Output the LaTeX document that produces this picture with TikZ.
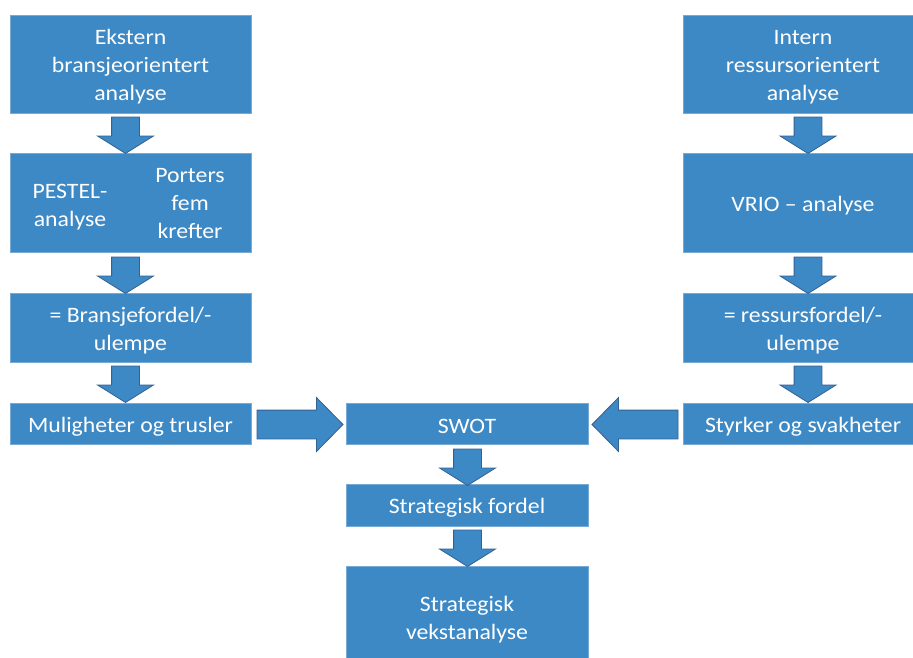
\documentclass[tikz,border=0pt]{standalone}
\usepackage{fontspec}
\setmainfont{Carlito}[FakeStretch=1.08]
\usetikzlibrary{shapes.arrows}
\definecolor{boxblue}{RGB}{61,137,197}
\definecolor{boxedge}{RGB}{120,170,214}
\definecolor{arrowedge}{RGB}{52,96,146}
\tikzset{
  box/.style={rectangle, fill=boxblue, draw=boxedge, line width=0.6pt,
    inner sep=0pt, outer sep=0pt},
  label/.style={inner sep=0pt, text=white, align=center,
    font=\fontsize{22}{28}\selectfont},
  downblock/.style={single arrow, shape border rotate=270, fill=boxblue,
    draw=arrowedge, line width=0.8pt, inner sep=13.5pt, outer sep=0pt,
    minimum height=33pt, single arrow head extend=14pt,
    single arrow tip angle=116, anchor=tail},
  sideblock/.style={single arrow, fill=boxblue, draw=arrowedge,
    line width=0.8pt, inner sep=14pt, outer sep=0pt,
    minimum height=86pt, single arrow head extend=12.5pt,
    single arrow tip angle=91, anchor=tail},
}
\begin{document}
\begin{tikzpicture}[x=1pt,y=-1pt]
\useasboundingbox (0,0) rectangle (913,657);
\clip (0,0) rectangle (913,657);

% boxes: external column, internal column, centre column
\node[box, minimum width=241pt, minimum height=98pt] (L1) at (130.5,64) {};
\node[box, minimum width=241pt, minimum height=99pt] (L2) at (130.5,202.5) {};
\node[box, minimum width=241pt, minimum height=69pt] (L3) at (130.5,327.5) {};
\node[box, minimum width=241pt, minimum height=41pt] (L4) at (130.5,423.5) {};
\node[box, minimum width=240pt, minimum height=98pt] (R1) at (803,64) {};
\node[box, minimum width=240pt, minimum height=99pt] (R2) at (803,202.5) {};
\node[box, minimum width=240pt, minimum height=69pt] (R3) at (803,327.5) {};
\node[box, minimum width=240pt, minimum height=41pt] (R4) at (803,423.5) {};
\node[box, minimum width=242pt, minimum height=41pt] (C1) at (467,423.5) {};
\node[box, minimum width=242pt, minimum height=42pt] (C2) at (467,505) {};
\node[box, minimum width=242pt, minimum height=102pt] (C3) at (467,617) {};

% box texts
\node[label] (L1t) at ([yshift=-3pt]L1.center) {Ekstern\\bransjeorientert\\analyse};
\node[label] (pestel) at (70,207) {PESTEL-\\analyse};
\node[label] (porter) at (190,204) {Porters\\fem\\krefter};
\node[label] (L3t) at ([yshift=-3pt]L3.center) {= Bransjefordel/-\\ulempe};
\node[label] (L4t) at ([yshift=-3pt]L4.center) {Muligheter og trusler};
\node[label] (R1t) at ([yshift=-3pt]R1.center) {Intern\\ressursorientert\\analyse};
\node[label] (R2t) at ([yshift=-3pt]R2.center) {VRIO -- analyse};
\node[label] (R3t) at ([yshift=-3pt]R3.center) {= ressursfordel/-\\ulempe};
\node[label] (R4t) at ([yshift=-3pt]R4.center) {Styrker og svakheter};
\node[label] (C1t) at ([yshift=-3pt]C1.center) {SWOT};
\node[label] (C2t) at ([yshift=-3pt]C2.center) {Strategisk fordel};
\node[label] (C3t) at ([yshift=-3pt]C3.center) {Strategisk\\vekstanalyse};

% block arrows
\node[downblock] (aL1) at (125.5,117) {};
\node[downblock] (aL2) at (125.5,257) {};
\node[downblock] (aL3) at (125.5,366) {};
\node[downblock] (aR1) at (808,117) {};
\node[downblock] (aR2) at (808,257) {};
\node[downblock] (aR3) at (808,366) {};
\node[downblock] (aC1) at (467.5,449) {};
\node[downblock] (aC2) at (467.5,530) {};
\node[sideblock] (aLR) at (257,424.5) {};
\node[sideblock, shape border rotate=180] (aRL) at (678,424.5) {};
\end{tikzpicture}
\end{document}
